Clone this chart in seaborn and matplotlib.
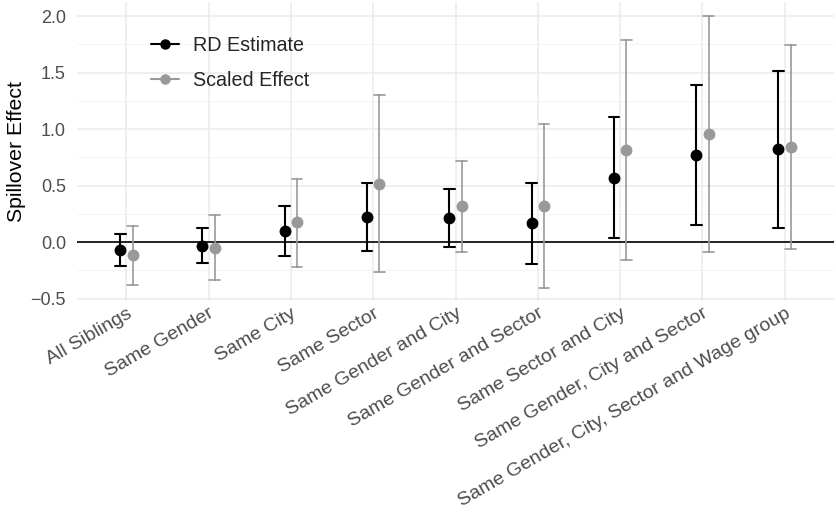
import pandas as pd
import seaborn as sns
import matplotlib.pyplot as plt
from matplotlib.lines import Line2D

sns.set_theme(style="white")
plt.rcParams['font.family'] = ['Liberation Sans', 'DejaVu Sans']

categories = ['All Siblings', 'Same Gender', 'Same City', 'Same Sector',
              'Same Gender and City', 'Same Gender and Sector', 'Same Sector and City',
              'Same Gender, City and Sector', 'Same Gender, City, Sector and Wage group']

rd_est = [-0.065, -0.03, 0.10, 0.22, 0.218, 0.168, 0.572, 0.776, 0.826]
rd_low = [-0.21, -0.186, -0.124, -0.08, -0.044, -0.195, 0.035, 0.15, 0.13]
rd_high = [0.077, 0.13, 0.32, 0.528, 0.475, 0.528, 1.109, 1.395, 1.516]

sc_est = [-0.115, -0.047, 0.177, 0.519, 0.319, 0.325, 0.82, 0.959, 0.843]
sc_low = [-0.374, -0.333, -0.215, -0.265, -0.082, -0.401, -0.153, -0.082, -0.059]
sc_high = [0.148, 0.242, 0.564, 1.304, 0.723, 1.05, 1.794, 2.006, 1.746]

series = ['RD Estimate', 'Scaled Effect']
colors = {'RD Estimate': 'black', 'Scaled Effect': '#999999'}

# long table: lower / estimate / upper rows, median = estimate, full range = CI
rows = []
for name, est, lo, hi in [('RD Estimate', rd_est, rd_low, rd_high),
                          ('Scaled Effect', sc_est, sc_low, sc_high)]:
    for c, e, l, h in zip(categories, est, lo, hi):
        for v in (l, e, h):
            rows.append({'group': c, 'series': name, 'value': v})
df = pd.DataFrame(rows)

fig = plt.figure(figsize=(8.36, 5.17), dpi=100)
ax = fig.add_axes([77 / 836, 1 - 301 / 517, (834 - 77) / 836, 299 / 517])

# grid
for y in [-0.25, 0.25, 0.75, 1.25, 1.75]:
    ax.axhline(y, color='#F2F2F2', lw=0.6, zorder=0)
for y in [-0.5, 0.0, 0.5, 1.0, 1.5, 2.0]:
    ax.axhline(y, color='#EBEBEB', lw=1.1, zorder=0)
for i in range(len(categories)):
    ax.axvline(i, color='#EBEBEB', lw=1.1, zorder=0)
ax.axhline(0, color='black', lw=1.2, zorder=1)

sns.pointplot(data=df, x='group', y='value', hue='series', order=categories,
              hue_order=series, palette=colors, estimator='median',
              errorbar=('pi', 100), dodge=0.15, linestyle='none', capsize=0.13,
              markers='o', markersize=6.5, err_kws={'linewidth': 1.5},
              legend=False, ax=ax)

for ln in ax.lines:
    if ln.get_color() == '#999999':
        ln.set_linewidth(1.2)

ax.set_xlim(-0.6, 8.6)
ax.set_ylim(-0.52, 2.126)
ax.set_yticks([-0.5, 0.0, 0.5, 1.0, 1.5, 2.0])
ax.set_yticklabels(['\u22120.5', '0.0', '0.5', '1.0', '1.5', '2.0'])
ax.tick_params(axis='y', labelsize=13, labelcolor='#4D4D4D', length=0, pad=8)
ax.tick_params(axis='x', labelsize=14, labelcolor='#4D4D4D', length=0, pad=3)
plt.setp(ax.get_xticklabels(), rotation=30, ha='right', va='top', rotation_mode='anchor')
ax.set_xlabel('')
ax.set_ylabel('Spillover Effect', fontsize=15.3, color='black', labelpad=3)
for s in ax.spines.values():
    s.set_visible(False)

handles = [Line2D([], [], color=colors[s], marker='o', markersize=6.5, lw=1.5) for s in series]
ax.legend(handles, series, loc='upper left', bbox_to_anchor=(141 / 836, 1 - 26 / 517),
          bbox_transform=fig.transFigure, frameon=False, fontsize=14.2,
          handlelength=1.45, handletextpad=0.7, labelspacing=0.8, borderpad=0)

fig.savefig('out.png', dpi=100)
